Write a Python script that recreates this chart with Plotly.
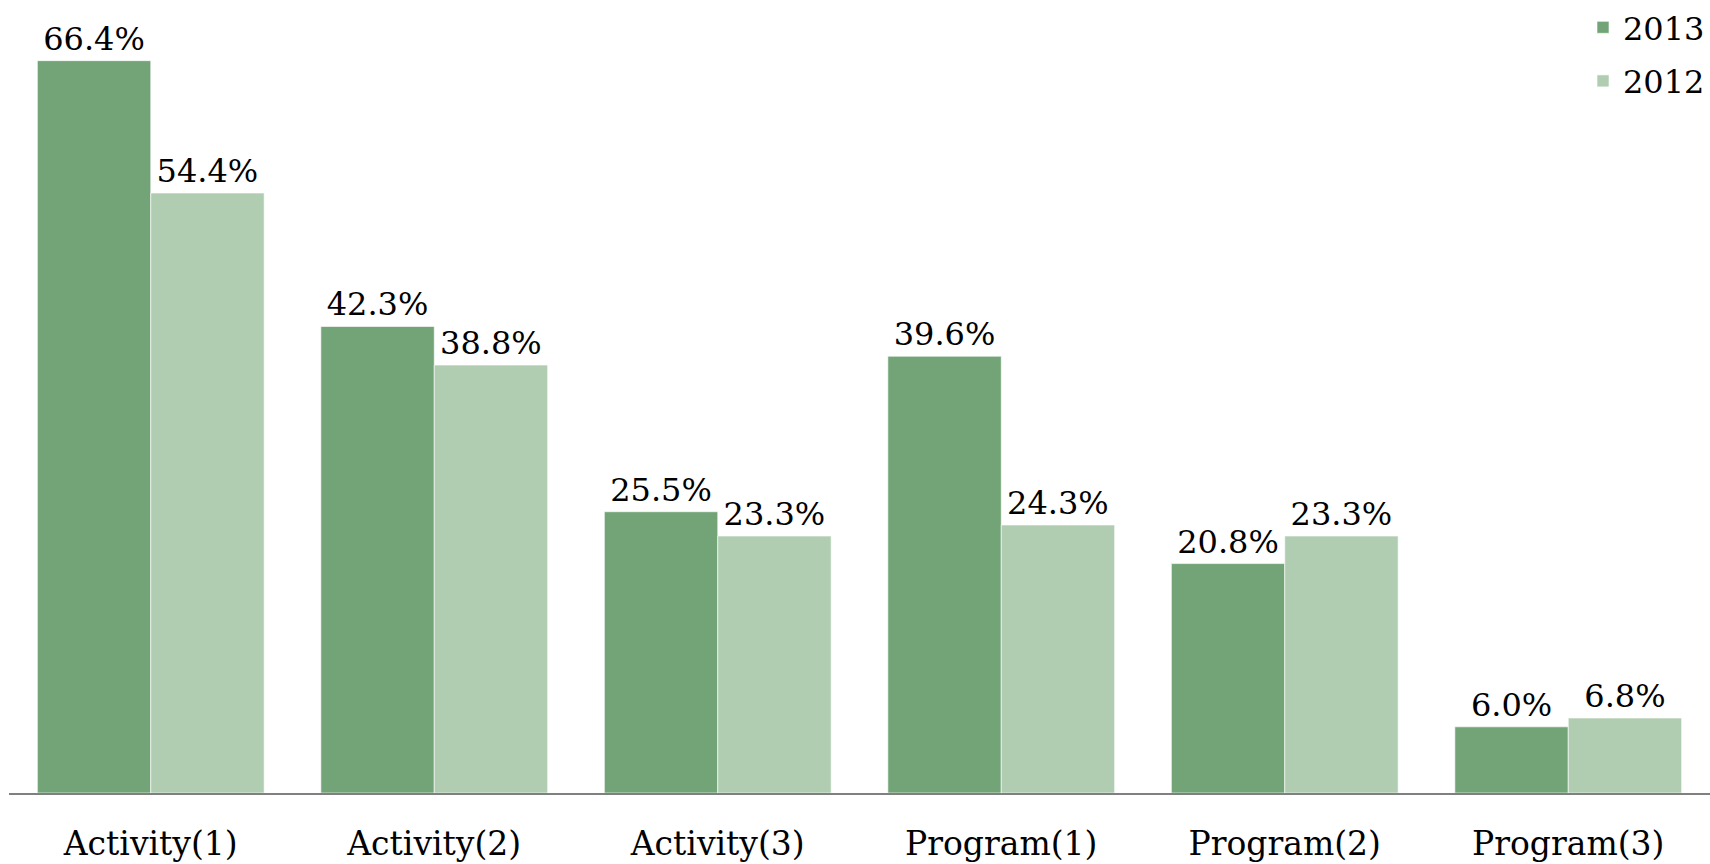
import plotly.graph_objects as go

categories = ["Activity(1)", "Activity(2)", "Activity(3)", "Program(1)", "Program(2)", "Program(3)"]
values_2013 = [66.4, 42.3, 25.5, 39.6, 20.8, 6.0]
values_2012 = [54.4, 38.8, 23.3, 24.3, 23.3, 6.8]

FONT = "DejaVu Serif"
FS = 32
fig = go.Figure()
for name, vals, col in [("2013", values_2013, "#72a477"), ("2012", values_2012, "#b0cdb1")]:
    fig.add_trace(go.Bar(
        x=categories, y=vals, name=name, legendgroup=name,
        marker=dict(color=col, line=dict(color="rgba(255,255,255,0.6)", width=1)),
        text=[f"{v:.1f}%" for v in vals], textposition="outside",
        textfont=dict(family=FONT, size=FS, color="black"),
        cliponaxis=False,
    ))

fig.update_layout(
    width=1710, height=864,
    margin=dict(l=9, r=0, t=0, b=71),
    barmode="group", bargap=0.2, bargroupgap=0,
    plot_bgcolor="white", paper_bgcolor="white",
    font=dict(family=FONT, size=FS, color="black"),
    showlegend=True,
    legend=dict(x=1, y=1, xanchor="right", yanchor="top", bgcolor="rgba(0,0,0,0)",
                font=dict(family=FONT, size=FS), tracegroupgap=9, traceorder="grouped"),
    xaxis=dict(showline=True, linecolor="#808080", linewidth=2, ticks="",
               ticklabelstandoff=20, tickfont=dict(family=FONT, size=33)),
    yaxis=dict(range=[0, 71.9], visible=False, showgrid=False),
)
fig.write_html("out.html", config={"displayModeBar": False},
               post_script="document.body.style.margin='0';document.body.style.overflow='hidden';")
